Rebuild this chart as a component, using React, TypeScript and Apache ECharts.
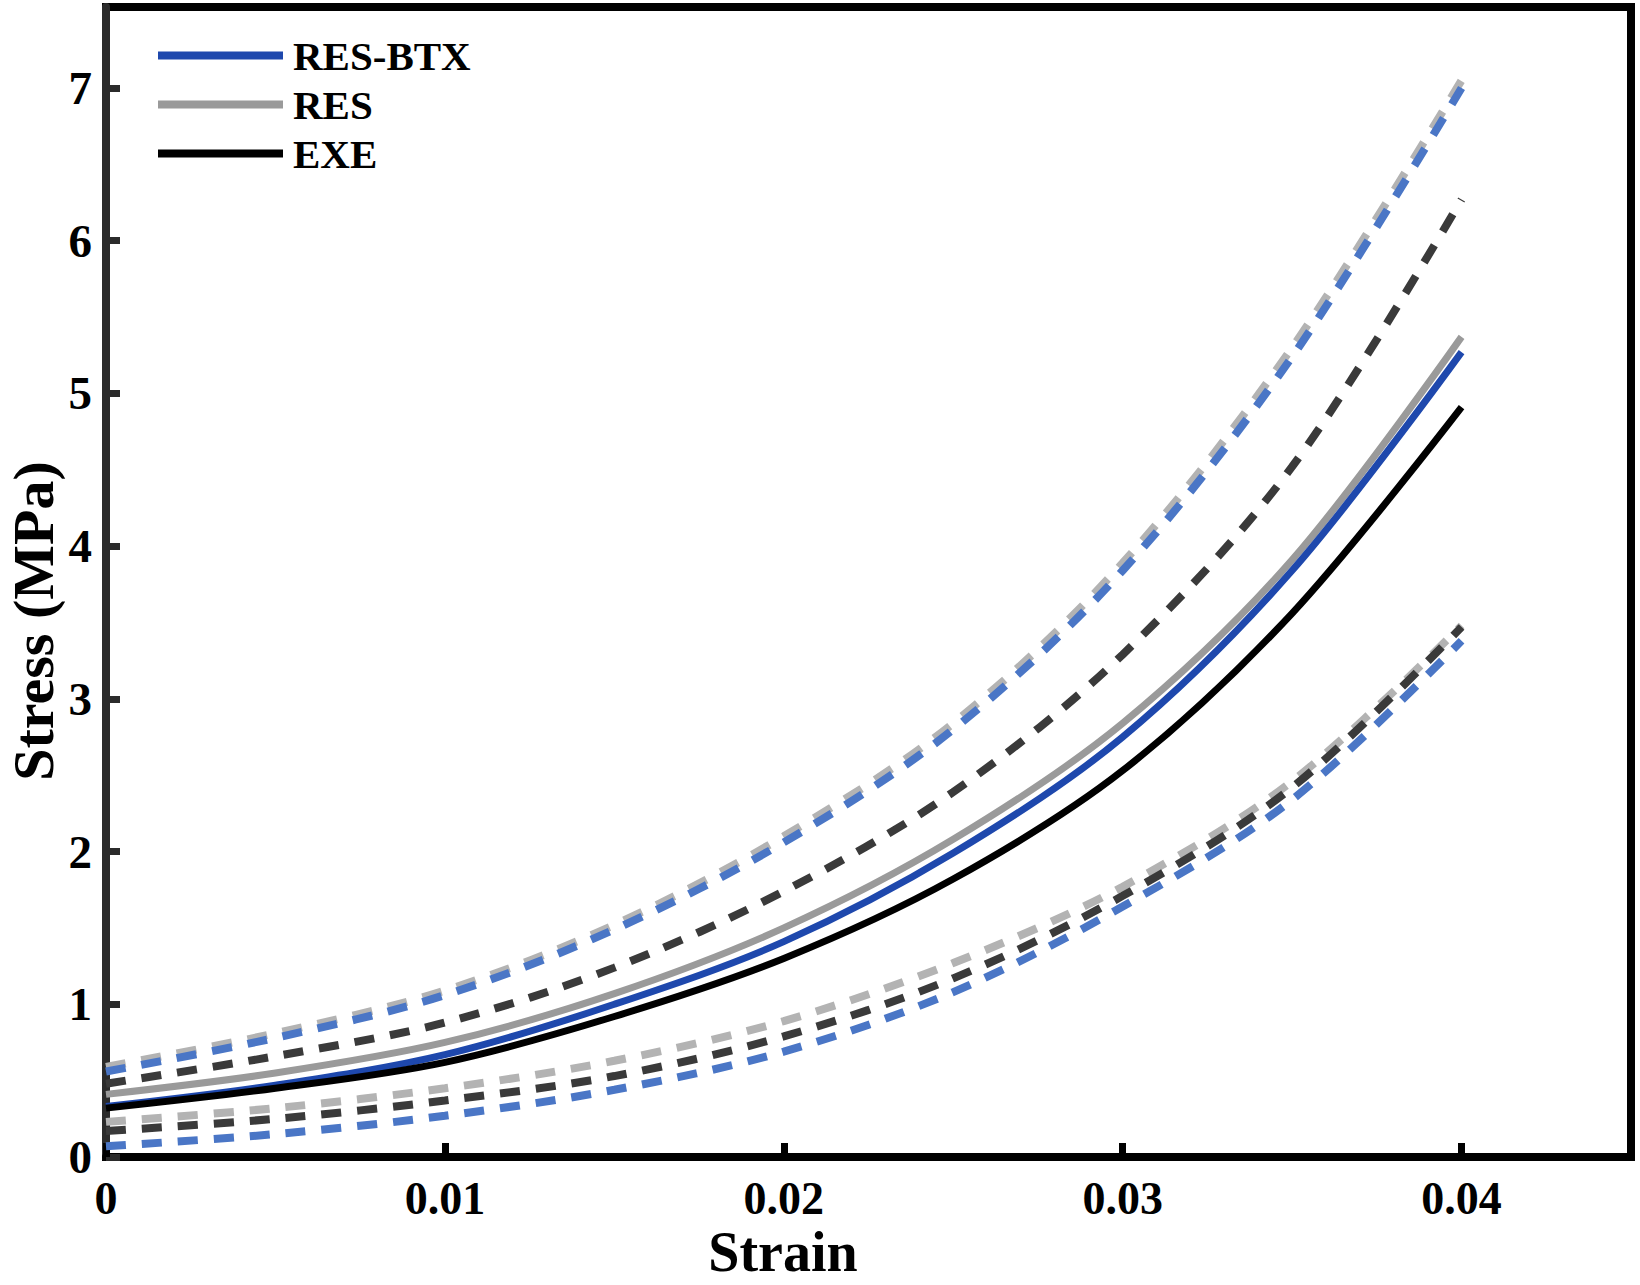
import React, { useEffect, useRef } from "react";
import * as echarts from "echarts";

const strain = [0, 0.005, 0.01, 0.015, 0.02, 0.025, 0.03, 0.035, 0.04];

const btxMean = [0.33, 0.47, 0.67, 1.0, 1.41, 1.99, 2.75, 3.84, 5.27];
const btxUpper = [0.56, 0.78, 1.06, 1.49, 2.06, 2.8, 3.84, 5.24, 7.0];
const btxLower = [0.07, 0.15, 0.27, 0.44, 0.69, 1.08, 1.64, 2.34, 3.38];

const resMean = [0.41, 0.55, 0.75, 1.07, 1.5, 2.08, 2.84, 3.91, 5.37];
const resUpper = [0.59, 0.81, 1.09, 1.52, 2.1, 2.84, 3.89, 5.3, 7.05];
const resLower = [0.23, 0.32, 0.45, 0.63, 0.89, 1.27, 1.77, 2.46, 3.48];

const exeMean = [0.32, 0.45, 0.62, 0.92, 1.3, 1.82, 2.53, 3.56, 4.91];
const exeUpper = [0.48, 0.66, 0.88, 1.24, 1.74, 2.39, 3.29, 4.52, 6.27];
const exeLower = [0.17, 0.25, 0.37, 0.53, 0.79, 1.17, 1.71, 2.42, 3.47];

const xTicks = [0, 0.01, 0.02, 0.03, 0.04];
const yTicks = [0, 1, 2, 3, 4, 5, 6, 7];
const legendNames = ["RES-BTX", "RES", "EXE"];

const FONT = "'Liberation Serif', 'Times New Roman', serif";

const pairs = (ys: number[]) => strain.map((x, i) => [x, ys[i]]);

export default function App() {
  const ref = useRef<HTMLDivElement>(null);
  useEffect(() => {
    document.body.style.margin = "0";
    if (!ref.current) return;
    const chart = echarts.init(ref.current, null, { renderer: "svg" });

    const solid = (name: string, color: string, data: number[]) => ({
      name,
      type: "line",
      data: pairs(data),
      color,
      showSymbol: false,
      symbol: "none",
      smooth: 0.33,
      lineStyle: { color, width: 7 },
      emphasis: { disabled: true },
    });
    const dashed = (name: string, color: string, data: number[]) => ({
      name,
      type: "line",
      data: pairs(data),
      color,
      showSymbol: false,
      symbol: "none",
      smooth: 0.33,
      lineStyle: { color, width: 8, type: [20, 16], cap: "butt" },
      emphasis: { disabled: true },
    });

    chart.setOption({
      animation: false,
      backgroundColor: "#fff",
      grid: {
        left: 106,
        right: 9,
        top: 7,
        bottom: 128,
        show: true,
        borderColor: "#000",
        borderWidth: 8,
        backgroundColor: "transparent",
      },
      legend: {
        data: legendNames,
        orient: "vertical",
        left: 153,
        top: 30,
        itemWidth: 125,
        itemHeight: 8,
        itemGap: 8,
        icon: "rect",
        textStyle: {
          fontFamily: FONT,
          fontWeight: "bold",
          fontSize: 41,
          lineHeight: 41,
          color: "#000",
          padding: [0, 0, 0, 5],
        },
      },
      xAxis: {
        type: "value",
        min: 0,
        max: 0.045,
        interval: 0.01,
        axisLine: { show: true, lineStyle: { color: "#000", width: 8 } },
        axisTick: {
          show: true,
          inside: true,
          length: 14,
          lineStyle: { color: "#000", width: 7 },
          customValues: xTicks,
        },
        axisLabel: {
          customValues: xTicks,
          margin: 22,
          fontFamily: FONT,
          fontWeight: "bold",
          fontSize: 46,
          lineHeight: 38,
          color: "#000",
          formatter: (v: number) => String(v),
        },
        splitLine: { show: false },
      },
      yAxis: {
        type: "value",
        min: 0,
        max: 7.53,
        interval: 1,
        axisLine: { show: true, lineStyle: { color: "#2b2b2b", width: 8 } },
        axisTick: {
          show: true,
          inside: true,
          length: 14,
          lineStyle: { color: "#2b2b2b", width: 7 },
          customValues: yTicks,
        },
        axisLabel: {
          customValues: yTicks,
          margin: 14,
          fontFamily: FONT,
          fontWeight: "bold",
          fontSize: 47,
          color: "#000",
          formatter: (v: number) => String(v),
        },
        splitLine: { show: false },
      },
      graphic: [
        {
          type: "text",
          x: 783,
          y: 1252,
          style: {
            text: "Strain",
            fontFamily: FONT,
            fontWeight: "bold",
            fontSize: 56,
            lineHeight: 44,
            fill: "#000",
            align: "center",
            verticalAlign: "middle",
          },
        },
        {
          type: "text",
          x: 33,
          y: 621,
          rotation: Math.PI / 2,
          style: {
            text: "Stress (MPa)",
            fontFamily: FONT,
            fontWeight: "bold",
            fontSize: 58,
            fill: "#000",
            align: "center",
            verticalAlign: "middle",
          },
        },
      ],
      series: [
        dashed("RES upper", "#b3b3b3", resUpper),
        dashed("RES lower", "#b3b3b3", resLower),
        solid("RES", "#9a9a9a", resMean),
        dashed("RES-BTX upper", "#4a76c6", btxUpper),
        dashed("RES-BTX lower", "#4a76c6", btxLower),
        solid("RES-BTX", "#1e48ad", btxMean),
        dashed("EXE upper", "#3a3a3a", exeUpper),
        dashed("EXE lower", "#3a3a3a", exeLower),
        solid("EXE", "#000000", exeMean),
      ],
    });
    return () => chart.dispose();
  }, []);
  return <div ref={ref} style={{ width: 1640, height: 1285 }} />;
}
